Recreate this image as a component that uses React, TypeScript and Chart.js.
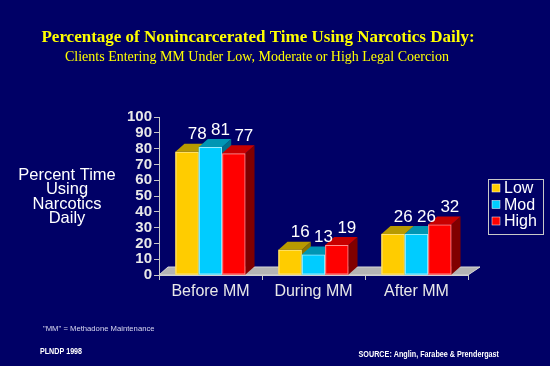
import React, { useEffect, useRef } from 'react';
import { Chart, registerables } from 'chart.js';

Chart.register(...registerables);

const categories = ['Before MM', 'During MM', 'After MM'];
const seriesNames = ['Low', 'Mod', 'High'];
const lowValues = [78, 16, 26];
const modValues = [81, 13, 26];
const highValues = [77, 19, 32];
const yMin = 0;
const yMax = 100;
const yStep = 10;

const titleText = 'Percentage of Nonincarcerated Time Using Narcotics Daily:';
const subtitleText = 'Clients Entering MM Under Low, Moderate or High Legal Coercion';
const yTitleLines = ['Percent Time', 'Using', 'Narcotics', 'Daily'];
const footnoteText = '"MM" = Methadone Maintenance';
const creditText = 'PLNDP 1998';
const sourceText = 'SOURCE: Anglin, Farabee & Prendergast';

const BG = '#000066';
const frontColors = ['#FFCC00', '#00CCFF', '#FF0000'];
const topColors = ['#B89A00', '#0096B4', '#C80000'];
const sideColors = ['#8C7400', '#006E8A', '#800000'];
const edgeColors = ['#FFE680', '#99EEFF', '#FF9090'];
const DX = 9;
const DY = 8;
const SANS = '"Liberation Sans", Arial, sans-serif';
const SERIF = '"Liberation Serif", "Times New Roman", serif';

function condensedText(ctx: any, text: string, x: number, y: number, font: string, sx: number, align: string) {
  ctx.save();
  ctx.font = font;
  ctx.textAlign = align;
  ctx.translate(x, y);
  ctx.scale(sx, 1);
  ctx.fillText(text, 0, 0);
  ctx.restore();
}

const threeDPlugin = {
  id: 'threeD',
  beforeDraw(chart: any) {
    const { ctx, width, height } = chart;
    ctx.save();
    ctx.fillStyle = BG;
    ctx.fillRect(0, 0, width, height);
    ctx.restore();
  },
  beforeDatasetsDraw(chart: any) {
    const { ctx, chartArea } = chart;
    const l = chartArea.left;
    const r = chartArea.right;
    const b = chartArea.bottom;
    ctx.save();
    ctx.beginPath();
    ctx.moveTo(l, b);
    ctx.lineTo(r, b);
    ctx.lineTo(r + DX + 3, b - DY);
    ctx.lineTo(l + DX, b - DY);
    ctx.closePath();
    ctx.fillStyle = '#B4B4B4';
    ctx.fill();
    ctx.strokeStyle = '#D8D8D8';
    ctx.lineWidth = 1;
    ctx.stroke();
    ctx.restore();
  },
  afterDatasetsDraw(chart: any) {
    const { ctx } = chart;
    ctx.save();
    chart.data.datasets.forEach((ds: any, i: number) => {
      const meta = chart.getDatasetMeta(i);
      meta.data.forEach((bar: any) => {
        const p = bar.getProps(['x', 'y', 'base', 'width'], true);
        const x0 = p.x - p.width / 2;
        const x1 = p.x + p.width / 2;
        const yt = p.y;
        const yb = p.base;
        ctx.fillStyle = frontColors[i];
        ctx.fillRect(x0, yt, x1 - x0, yb - yt);
        ctx.strokeStyle = edgeColors[i];
        ctx.lineWidth = 1;
        ctx.strokeRect(x0 + 0.5, yt + 0.5, x1 - x0 - 1, yb - yt - 1);
        ctx.beginPath();
        ctx.moveTo(x1, yt);
        ctx.lineTo(x1 + DX, yt - DY);
        ctx.lineTo(x1 + DX, yb - DY);
        ctx.lineTo(x1, yb);
        ctx.closePath();
        ctx.fillStyle = sideColors[i];
        ctx.fill();
        ctx.beginPath();
        ctx.moveTo(x0, yt);
        ctx.lineTo(x1, yt);
        ctx.lineTo(x1 + DX, yt - DY);
        ctx.lineTo(x0 + DX, yt - DY);
        ctx.closePath();
        ctx.fillStyle = topColors[i];
        ctx.fill();
      });
    });
    ctx.fillStyle = '#FFFFFF';
    ctx.font = `17px ${SANS}`;
    ctx.textAlign = 'center';
    ctx.textBaseline = 'middle';
    chart.data.datasets.forEach((ds: any, i: number) => {
      const meta = chart.getDatasetMeta(i);
      meta.data.forEach((bar: any, j: number) => {
        const p = bar.getProps(['x', 'y'], true);
        ctx.fillText(String(ds.data[j]), p.x + 10, p.y - 17);
      });
    });
    ctx.restore();
  },
  afterDraw(chart: any) {
    const { ctx } = chart;
    ctx.save();
    ctx.textAlign = 'center';
    ctx.textBaseline = 'middle';
    ctx.fillStyle = '#FFFF00';
    ctx.font = `bold 17px ${SERIF}`;
    ctx.fillText(titleText, 258, 38);
    ctx.font = `14px ${SERIF}`;
    ctx.fillText(subtitleText, 257, 57);
    ctx.fillStyle = '#FFFFFF';
    ctx.font = `16.5px ${SANS}`;
    yTitleLines.forEach((line, k) => {
      ctx.fillText(line, 67, 175 + k * 14.5);
    });
    ctx.strokeStyle = '#C8C8C8';
    ctx.lineWidth = 1;
    ctx.strokeRect(488.5, 179.5, 55, 55);
    ctx.textAlign = 'left';
    ctx.font = `16px ${SANS}`;
    seriesNames.forEach((name, k) => {
      const yy = 188 + k * 16.5;
      ctx.fillStyle = frontColors[k];
      ctx.fillRect(492, yy - 4, 8, 8);
      ctx.strokeStyle = '#FFFFFF';
      ctx.lineWidth = 0.5;
      ctx.strokeRect(492, yy - 4, 8, 8);
      ctx.fillStyle = '#FFFFFF';
      ctx.fillText(name, 504, yy + 1);
    });
    ctx.fillStyle = '#D8D8F0';
    condensedText(ctx, footnoteText, 43, 329, `8px ${SANS}`, 0.96, 'left');
    ctx.fillStyle = '#FFFFFF';
    condensedText(ctx, creditText, 40, 352, `bold 8.5px ${SANS}`, 0.84, 'left');
    condensedText(ctx, sourceText, 499, 355, `bold 9px ${SANS}`, 0.8, 'right');
    ctx.restore();
  },
};

export default function App() {
  const ref = useRef<HTMLCanvasElement | null>(null);
  useEffect(() => {
    document.body.style.margin = '0';
    document.body.style.background = BG;
    const canvas = ref.current;
    if (!canvas) return;
    const values = [lowValues, modValues, highValues];
    const chart = new Chart(canvas, {
      type: 'bar',
      data: {
        labels: categories,
        datasets: seriesNames.map((name, i) => ({
          label: name,
          data: values[i],
          backgroundColor: frontColors[i],
          borderColor: edgeColors[i],
          borderWidth: 1,
          barPercentage: 1,
          categoryPercentage: 0.68,
        })),
      },
      options: {
        responsive: false,
        animation: false,
        events: [],
        layout: { padding: { top: 117, right: 82, left: 0, bottom: 0 } },
        plugins: {
          legend: { display: false },
          tooltip: { enabled: false },
          title: { display: false },
        },
        scales: {
          x: {
            grid: {
              display: true,
              drawOnChartArea: false,
              tickLength: 5,
              color: '#C8C8C8',
              offset: true,
            },
            border: { color: '#C8C8C8', width: 1 },
            ticks: {
              color: '#E8E8E8',
              font: { size: 16, family: SANS },
              padding: 2,
            },
            afterFit: (s: any) => {
              s.height = 91;
            },
          },
          y: {
            min: yMin,
            max: yMax,
            ticks: {
              stepSize: yStep,
              autoSkip: false,
              color: '#E8E8E8',
              font: { size: 15, weight: 'bold', family: SANS },
              padding: 2,
            },
            grid: {
              drawOnChartArea: false,
              tickLength: 5,
              color: '#C8C8C8',
            },
            border: { color: '#C8C8C8', width: 1 },
            afterFit: (s: any) => {
              s.width = 159;
            },
          },
        },
      },
      plugins: [threeDPlugin],
    } as any);
    return () => chart.destroy();
  }, []);
  return (
    <div style={{ position: 'absolute', left: 0, top: 0, width: 550, height: 366 }}>
      <canvas ref={ref} width={550} height={366} />
    </div>
  );
}
